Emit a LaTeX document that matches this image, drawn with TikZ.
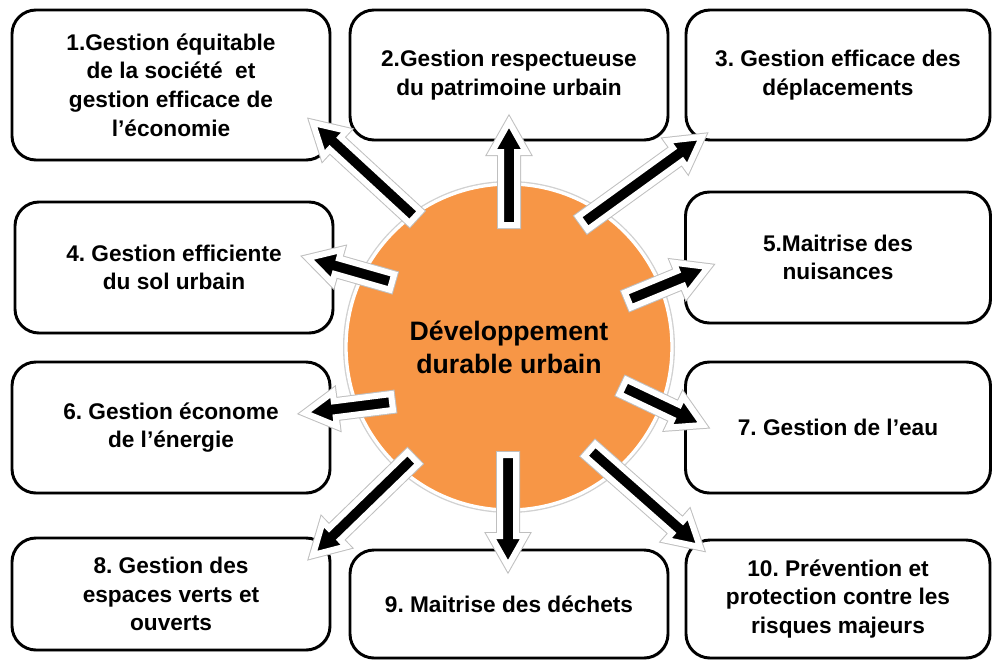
\documentclass[tikz,border=0pt]{standalone}
\usepackage{fontspec}
\setmainfont{Liberation Sans}
\usetikzlibrary{calc,shadows}
\frenchspacing
\definecolor{ddorange}{HTML}{F79646}
\tikzset{
  box/.style 2 args={draw, line width=2.2pt, rounded corners=18pt, fill=white,
    align=center, inner sep=0pt, minimum width=#1, minimum height=#2,
    font=\bfseries\fontsize{17}{21.5}\selectfont,
    drop shadow={shadow xshift=0.8pt, shadow yshift=-1.2pt, opacity=.3}},
  blockarr/.style={fill=black, draw=white, line width=4.5pt, line join=miter,
    preaction={draw=black!25, line width=6pt, line join=miter}}
}
% block arrow from tail #1 to tip #2
\newcommand\blockarrow[2]{%
  \coordinate (hb) at ($(#2)!22.5pt!(#1)$);
  \draw[blockarr] ($(#1)!6pt!90:(#2)$) -- ($(hb)!6pt!90:(#2)$) -- ($(hb)!12.75pt!90:(#2)$)
    -- (#2) -- ($(hb)!12.75pt!-90:(#2)$) -- ($(hb)!6pt!-90:(#2)$) -- ($(#1)!6pt!-90:(#2)$) -- cycle;
}
\begin{document}
\begin{tikzpicture}[x=0.75pt, y=-0.75pt]
	\useasboundingbox (0,0) rectangle (993,660);
	% boxes
	\node[box={238.5pt}{112.5pt}] (b1) at (171,85) {1.Gestion équitable\\de la société~ et\\gestion efficace de\\l’économie};
	\node[box={238.5pt}{97.5pt}] (b2) at (509,75) {2.Gestion respectueuse\\du patrimoine urbain};
	\node[box={228pt}{97.5pt}] (b3) at (838,75) {3. Gestion efficace des\\déplacements};
	\node[box={238.5pt}{98.25pt}] (b4) at (174,267.5) {4. Gestion efficiente\\du sol urbain};
	\node[box={228.75pt}{98.25pt}] (b5) at (838,257.5) {5.Maitrise des\\nuisances};
	\node[box={238.5pt}{98.25pt}] (b6) at (171,427.5) {6. Gestion économe\\de l’énergie};
	\node[box={228.75pt}{98.25pt}] (b7) at (838,427.5) {7. Gestion de l’eau};
	\node[box={238.5pt}{84pt}] (b8) at (171,594) {8. Gestion des\\espaces verts et\\ouverts};
	\node[box={238.5pt}{81pt}] (b9) at (509,604) {9. Maitrise des déchets};
	\node[box={228pt}{88.5pt}] (b10) at (838,599) {10. Prévention et\\protection contre les\\risques majeurs};
	% centre
	\node[circle, fill=ddorange, draw=white, line width=2.5pt, minimum size=244.5pt,
	  preaction={draw=black!18, line width=4.5pt}, align=center,
	  font=\bfseries\fontsize{20}{24.75}\selectfont] (dd) at (509,347) {Développement\\durable urbain};
	% arrow ends
	\coordinate (t1) at (415,217);  \coordinate (p1) at (313,123);
	\coordinate (t2) at (509,225);  \coordinate (p2) at (509,122);
	\coordinate (t3) at (583,223);  \coordinate (p3) at (702,137);
	\coordinate (t4) at (392,282);  \coordinate (p4) at (308,258);
	\coordinate (t5) at (628,300);  \coordinate (p5) at (708,267);
	\coordinate (t6) at (392,402);  \coordinate (p6) at (305,413);
	\coordinate (t7) at (623,387);  \coordinate (p7) at (703,425);
	\coordinate (t8) at (413,458);  \coordinate (p8) at (313,555);
	\coordinate (t9) at (508,455);  \coordinate (p9) at (508,566);
	\coordinate (t10) at (590,450); \coordinate (p10) at (700,547);
	\foreach \i in {1,...,10} {\blockarrow{t\i}{p\i}}
\end{tikzpicture}
\end{document}
